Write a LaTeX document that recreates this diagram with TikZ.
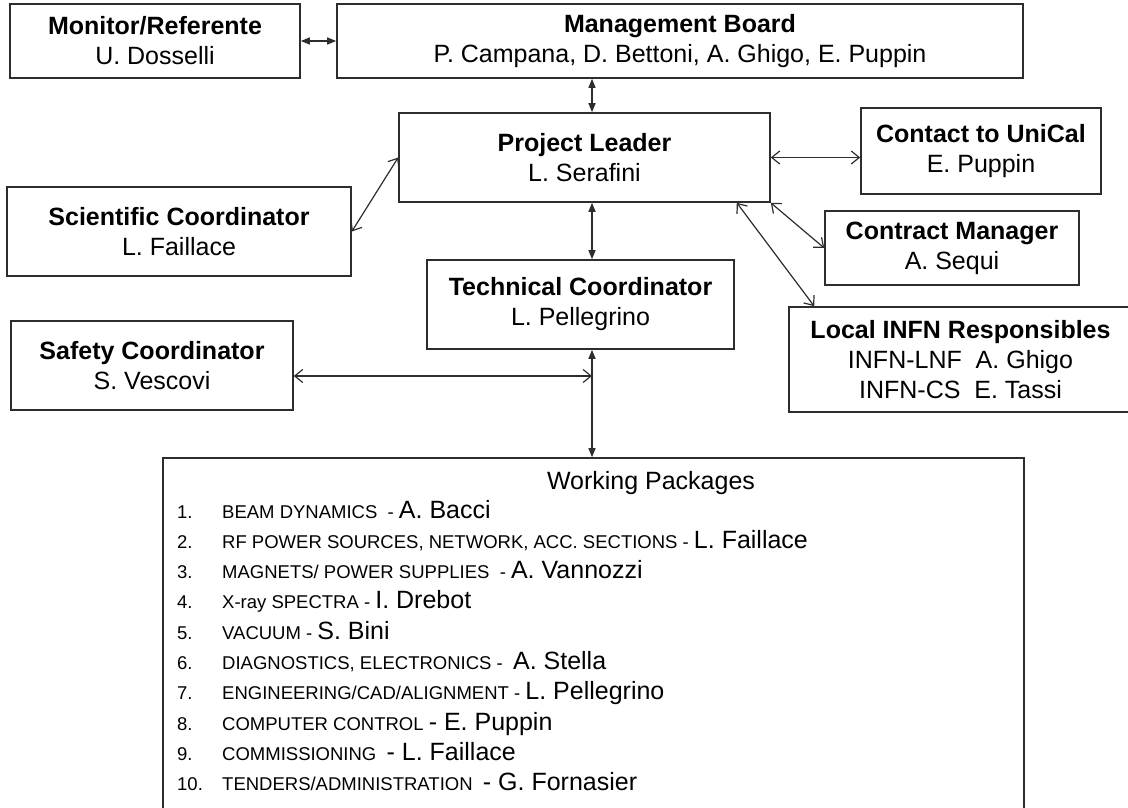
\documentclass[tikz,border=0pt]{standalone}
\usepackage{fontspec}
\setmainfont{Liberation Sans}
\usetikzlibrary{arrows.meta,calc}
\definecolor{ink}{RGB}{45,45,45}
\newcommand\pname[1]{{\fontsize{25}{30}\selectfont #1}}
\tikzset{
  role/.style={draw=ink,line width=1.6pt,align=center,inner sep=0pt,
    font=\fontsize{25}{30}\selectfont},
  link/.style={{Triangle[length=9pt,width=7pt]}-{Triangle[length=9pt,width=7pt]},
    draw=ink,line width=1.4pt},
  open link/.style={{Straight Barb[length=8pt,width=13pt]}-{Straight Barb[length=8pt,width=13pt]},
    draw=ink,line width=1.2pt},
  task/.style={anchor=base west,inner sep=0pt,font=\fontsize{18.5}{20}\selectfont},
}

\begin{document}
\begin{tikzpicture}[x=1pt,y=-1pt]
  \useasboundingbox (0,0) rectangle (1128,808);

  % boxes
  \node[role,minimum width=290pt,minimum height=74pt] (mon) at (155,41)
    {\textbf{Monitor/Referente}\\U. Dosselli};
  \node[role,minimum width=686pt,minimum height=74pt] (mgmt) at (680,41)
    {\textbf{Management Board}\\P. Campana, D. Bettoni, A. Ghigo, E. Puppin};
  \node[role,minimum width=371pt,minimum height=89pt] (pl) at (584.5,157.5)
    {\textbf{Project Leader}\\L. Serafini};
  \node[role,minimum width=240pt,minimum height=86pt] (unical) at (981,151)
    {\textbf{Contact to UniCal}\\E. Puppin};
  \node[role,minimum width=254pt,minimum height=74pt] (cm) at (952,248)
    {\textbf{Contract Manager}\\A. Sequi};
  \node[role,minimum width=343pt,minimum height=105pt] (infn) at (960.5,359.5)
    {\textbf{Local INFN Responsibles}\\INFN-LNF\ \ A. Ghigo\\INFN-CS\ \ E. Tassi};
  \node[role,minimum width=344pt,minimum height=89pt] (sci) at (179,231.5)
    {\textbf{Scientific Coordinator}\\L. Faillace};
  \node[role,minimum width=307pt,minimum height=89pt] (tc) at (580.5,304.5)
    {\textbf{Technical Coordinator}\\L. Pellegrino};
  \node[role,minimum width=282pt,minimum height=89pt] (safety) at (152,365.5)
    {\textbf{Safety Coordinator}\\S. Vescovi};
  \node[role,minimum width=861pt,minimum height=352pt] (wp) at (593.5,634) {};

  % working packages
  \node[anchor=base,inner sep=0pt,font=\fontsize{25}{30}\selectfont] (wptitle) at (651,489) {Working Packages};
  \foreach \n/\wpjob/\wpwho [count=\i from 0] in {
      1./{BEAM DYNAMICS\ \ -}/{A. Bacci},
      2./{RF POWER SOURCES, NETWORK, ACC. SECTIONS -}/{L. Faillace},
      3./{MAGNETS/ POWER SUPPLIES\ \ -}/{A. Vannozzi},
      4./{X-ray SPECTRA -}/{I. Drebot},
      5./{VACUUM -}/{S. Bini},
      6./{DIAGNOSTICS, ELECTRONICS -\ }/{A. Stella},
      7./{ENGINEERING/CAD/ALIGNMENT -}/{L. Pellegrino},
      8./{COMPUTER CONTROL}/{- E. Puppin},
      9./{COMMISSIONING\ }/{-\ L. Faillace},
      10./{TENDERS/ADMINISTRATION\ }/{-\ G. Fornasier}}{
    \node[task] (num\i) at (177,518+30.3*\i) {\n};
    \node[task] (job\i) at (222,518+30.3*\i) {\wpjob\ \pname{\wpwho}};
  }

  % connectors
  \coordinate (spine) at (592,0);
  \coordinate (safe) at (592,376);
  \draw[link] (mon.east) -- (mgmt.west);
  \draw[link] (mgmt.south -| spine) -- (pl.north -| spine);
  \draw[link] (pl.south -| spine) -- (tc.north -| spine);
  \draw[link] (tc.south -| spine) -- (wp.north -| spine);
  \draw[open link] (sci.east) -- (pl.west);
  \draw[open link] (pl.east) -- (pl.east -| unical.west);
  \draw[open link] (pl.south east) -- (cm.west);
  \draw[open link] ([xshift=-34pt]pl.south east) -- ([xshift=26pt]infn.north west);
  \draw[open link] (safety.east |- safe) -- (safe);
\end{tikzpicture}
\end{document}
